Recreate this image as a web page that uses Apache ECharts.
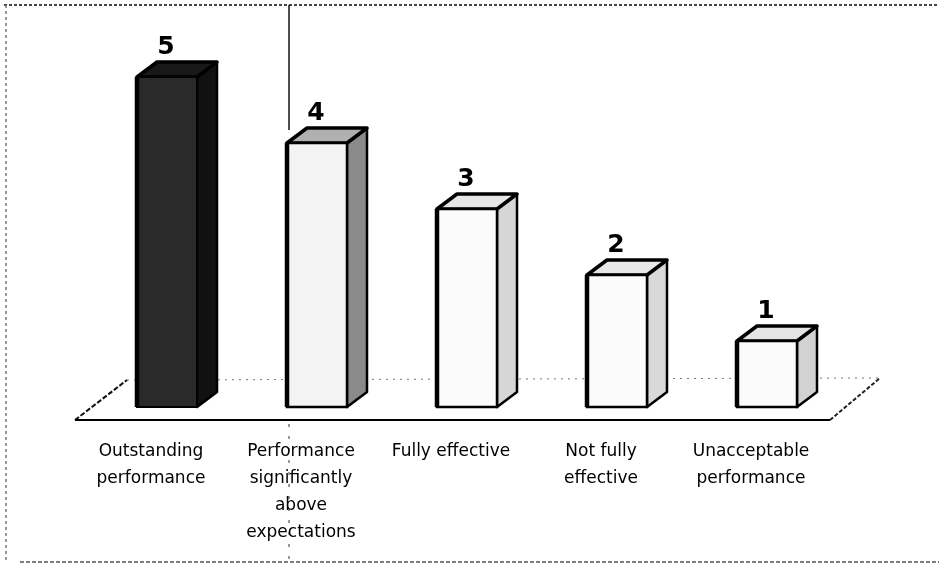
<!DOCTYPE html>
<html>
<head>
<meta charset="utf-8">
<script src="https://cdn.jsdelivr.net/npm/echarts@6/dist/echarts.min.js"></script>
<style>
html,body{margin:0;padding:0;background:#fff;}
#chart{width:939px;height:569px;}
</style>
</head>
<body>
<div id="chart"></div>
<script>
// ---- data ----
const categories = [
  'Outstanding\nperformance',
  'Performance\nsignificantly\nabove\nexpectations',
  'Fully effective',
  'Not fully\neffective',
  'Unacceptable\nperformance'
];
const ratings = [5, 4, 3, 2, 1];
const valueTicks = [0, 1, 2, 3, 4, 5, 6];

// ---- styles (per bar) ----
const frontFill = ['#2a2a2a', '#f3f3f3', '#fbfbfb', '#fbfbfb', '#fbfbfb'];
const sideFill  = ['#111111', '#8a8a8a', '#d6d6d6', '#d9d9d9', '#d2d2d2'];
const topFill   = ['#181818', '#b0b0b0', '#e6e6e6', '#e8e8e8', '#e4e4e4'];

const chart = echarts.init(document.getElementById('chart'));

function renderBox(params, api) {
  const idx = api.value(0);
  const v = api.value(1);
  const base = api.coord([idx, 0]);
  const top = api.coord([idx, v]);
  const cx = base[0];
  const lift = 13, dx = 20, dy = 15;
  const x0 = cx - 14, x1 = cx + 46;
  const yb = base[1] - lift, yt = top[1] - lift;
  const i = params.dataIndex;
  const edge = '#000';
  return {
    type: 'group',
    children: [
      { type: 'polygon', shape: { points: [[x1, yt], [x1 + dx, yt - dy], [x1 + dx, yb - dy], [x1, yb]] },
        style: { fill: sideFill[i], stroke: edge, lineWidth: 2.5, lineJoin: 'round' } },
      { type: 'polygon', shape: { points: [[x0, yt], [x0 + dx, yt - dy], [x1 + dx, yt - dy], [x1, yt]] },
        style: { fill: topFill[i], stroke: edge, lineWidth: 3.5, lineJoin: 'round' } },
      { type: 'rect', shape: { x: x0, y: yt, width: x1 - x0, height: yb - yt },
        style: { fill: frontFill[i], stroke: edge, lineWidth: i === 0 ? 2 : 2.5 } },
      { type: 'line', shape: { x1: x0, y1: yt, x2: x0, y2: yb },
        style: { stroke: edge, lineWidth: 4.5 } },
      { type: 'text', x: cx + 15, y: yt - dy - 2,
        style: { text: String(v), fill: '#000', font: 'bold 25px "DejaVu Sans"', align: 'center', verticalAlign: 'bottom' } }
    ]
  };
}

function renderFloor(params, api) {
  const cs = params.coordSys;
  const fy = cs.y + cs.height;
  const fl = cs.x - 1, fr = cs.x + cs.width + 4;
  const bx = 52, by = 40;
  return {
    type: 'group',
    children: [
      { type: 'polygon', shape: { points: [[fl, fy], [fl + bx, fy - by], [fr + bx - 2, fy - by - 2], [fr, fy]] },
        style: { fill: '#fff', stroke: null } },
      { type: 'line', shape: { x1: fl + bx, y1: fy - by, x2: fr + bx - 2, y2: fy - by - 2 },
        style: { stroke: '#777', lineWidth: 1, lineDash: [2, 5] } },
      { type: 'line', shape: { x1: fl, y1: fy, x2: fl + bx, y2: fy - by },
        style: { stroke: '#111', lineWidth: 2, lineDash: [5, 2] } },
      { type: 'line', shape: { x1: fr, y1: fy, x2: fr + bx - 2, y2: fy - by - 2 },
        style: { stroke: '#222', lineWidth: 2, lineDash: [4, 2] } },
      { type: 'line', shape: { x1: fl, y1: fy, x2: fr, y2: fy },
        style: { stroke: '#000', lineWidth: 2 } }
    ]
  };
}

chart.setOption({
  animation: false,
  backgroundColor: '#fff',
  grid: { left: 76, right: 113, top: 24, bottom: 149 },
  xAxis: {
    type: 'category',
    data: categories,
    axisLine: { show: false },
    axisTick: { show: false },
    axisLabel: {
      interval: 0,
      margin: 18,
      color: '#000',
      fontFamily: 'DejaVu Sans',
      fontSize: 17,
      lineHeight: 27
    }
  },
  yAxis: {
    type: 'value',
    min: valueTicks[0],
    max: valueTicks[valueTicks.length - 1],
    interval: 1,
    show: false,
    splitLine: { show: false }
  },
  graphic: [
    { type: 'line', z: -10, shape: { x1: 4, y1: 5, x2: 939, y2: 5 },
      style: { stroke: '#444', lineWidth: 2, lineDash: [3, 2] } },
    { type: 'line', z: -10, shape: { x1: 6, y1: 5, x2: 6, y2: 563 },
      style: { stroke: '#777', lineWidth: 1.5, lineDash: [3, 3] } },
    { type: 'line', z: -10, shape: { x1: 20, y1: 562, x2: 939, y2: 562 },
      style: { stroke: '#555', lineWidth: 1.5, lineDash: [4, 2] } },
    { type: 'line', z: -10, shape: { x1: 289, y1: 5, x2: 289, y2: 130 },
      style: { stroke: '#111', lineWidth: 1.5 } },
    { type: 'line', z: -10, shape: { x1: 289, y1: 424, x2: 289, y2: 566 },
      style: { stroke: '#333', lineWidth: 1, lineDash: [3, 9] } }
  ],
  series: [
    {
      type: 'custom',
      name: 'floor',
      z: 1,
      silent: true,
      renderItem: renderFloor,
      data: [[0, 0]]
    },
    {
      type: 'custom',
      name: 'ratings',
      z: 5,
      renderItem: renderBox,
      data: ratings.map((v, i) => [i, v])
    }
  ]
});
</script>
</body>
</html>
